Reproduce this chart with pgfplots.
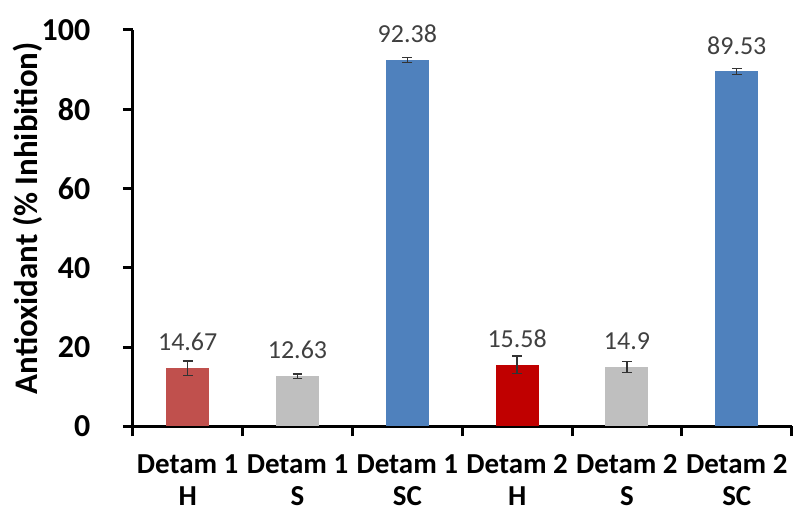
\documentclass[border=0pt]{standalone}
\usepackage{pgfplots}
\pgfplotsset{compat=1.18}
\usepackage{fontspec}
\setmainfont{Carlito}
\definecolor{cred}{HTML}{C0504D}
\definecolor{dred}{HTML}{C00000}
\definecolor{cgray}{HTML}{BFBFBF}
\definecolor{cblue}{HTML}{4F81BD}
\definecolor{lab}{HTML}{404040}
\pgfplotsset{
  mybar/.style={ybar, bar shift=0pt, bar width=43pt, fill=#1, draw=none,
    nodes near coords, point meta=explicit symbolic,
    nodes near coords style={anchor=south, inner sep=0pt, yshift=17pt, font=\fontsize{26}{30}\selectfont, text=lab},
    error bars/.cd, y dir=both, y explicit,
    error bar style={line width=1.4pt, black!80},
    error mark options={rotate=90, mark size=5pt, line width=1.4pt, black!80}}
}
\begin{document}
\begin{tikzpicture}
\path (-133pt,-86pt) rectangle (662pt,427pt);
\begin{axis}[
  at={(0,0)}, anchor=south west,
  scale only axis, width=660pt, height=397pt,
  xmin=-0.5, xmax=5.5, ymin=0, ymax=100,
  axis lines=left,
  axis line style={-, line width=3pt, black},
  x axis line style={line width=3pt},
  y axis line style={line width=3pt},
  tick align=outside, major tick length=10pt,
  every tick/.style={line width=3pt, black},
  /pgf/number format/assume math mode=true,
  ytick={0,20,...,100},
  yticklabel style={font=\fontsize{32}{36}\selectfont\bfseries, xshift=-29pt},
  xtick={-0.5,0.5,...,5.5}, xticklabels={},
  extra x ticks={0,1,2,3,4,5},
  extra x tick labels={{Detam 1\\H},{Detam 1\\S},{Detam 1\\SC},{Detam 2\\H},{Detam 2\\S},{Detam 2\\SC}},
  extra x tick style={major tick length=0pt,
    tick label style={align=center, inner sep=0pt, font=\fontsize{29}{32}\selectfont\bfseries, yshift=-28pt}},
  ylabel={Antioxidant (\% Inhibition)},
  every axis y label/.style={at={(axis description cs:-0.159,0.525)}, rotate=90, anchor=center,
    font=\fontsize{33}{36}\selectfont\bfseries},
  clip=false,
]
\addplot[mybar=cred] table[x=x,y=y,y error=e,meta=l] {
x y e l
0 14.67 1.8 14.67
};
\addplot[mybar=cgray] table[x=x,y=y,y error=e,meta=l] {
x y e l
1 12.63 0.6 12.63
};
\addplot[mybar=cblue] table[x=x,y=y,y error=e,meta=l] {
x y e l
2 92.38 0.6 92.38
};
\addplot[mybar=dred] table[x=x,y=y,y error=e,meta=l] {
x y e l
3 15.58 2.2 15.58
};
\addplot[mybar=cgray] table[x=x,y=y,y error=e,meta=l] {
x y e l
4 14.9 1.4 14.9
};
\addplot[mybar=cblue] table[x=x,y=y,y error=e,meta=l] {
x y e l
5 89.53 0.7 89.53
};
\end{axis}
\end{tikzpicture}
\end{document}
